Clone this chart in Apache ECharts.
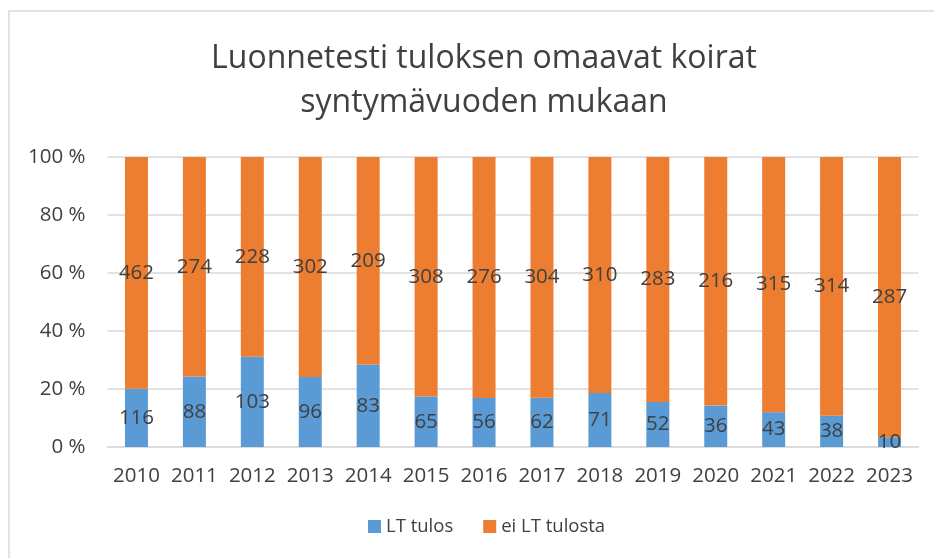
<!DOCTYPE html>
<html><head><meta charset="utf-8">
<script src="https://cdn.jsdelivr.net/npm/echarts@6/dist/echarts.min.js"></script>
<style>html,body{margin:0;padding:0;background:#fff}#c{width:934px;height:558px}</style>
</head><body><div id="c"></div>
<script>
const years = ['2010','2011','2012','2013','2014','2015','2016','2017','2018','2019','2020','2021','2022','2023'];
const ltTulos = [116,88,103,96,83,65,56,62,71,52,36,43,38,10];
const eiLtTulosta = [462,274,228,302,209,308,276,304,310,283,216,315,314,287];
const yTicks = [0,20,40,60,80,100];

const totals = years.map((_, i) => ltTulos[i] + eiLtTulosta[i]);
const pct = (arr) => arr.map((v, i) => ({ value: v / totals[i] * 100, raw: v }));
const font = 'Open Sans';
const chart = echarts.init(document.getElementById('c'), null, {renderer:'canvas'});
const labelCfg = { show: true, position: 'inside', color: '#404040', fontSize: 20.5, fontFamily: font, formatter: p => p.data.raw };
chart.setOption({
  animation: false,
  graphic: [{ type: 'rect', shape: { x: 9, y: 11, width: 940, height: 560 }, style: { fill: 'none', stroke: '#d9d9d9', lineWidth: 1.5 }, silent: true }],
  title: { text: 'Luonnetesti tuloksen omaavat koirat\nsyntymävuoden mukaan', left: 479, textAlign: 'center', top: 32,
    textStyle: { fontFamily: font, fontSize: 32, fontWeight: 'normal', color: '#404040', lineHeight: 44 } },
  legend: { bottom: 17, left: 363, itemWidth: 13, itemHeight: 13, itemGap: 30, icon: 'rect',
    textStyle: { fontFamily: font, fontSize: 18.5, color: '#404040' } },
  grid: { left: 107.5, right: 15.5, top: 157, bottom: 111 },
  xAxis: { type: 'category', data: years, axisTick: { show: false }, axisLine: { lineStyle: { color: '#d9d9d9', width: 1.5 } },
    axisLabel: { interval: 0, hideOverlap: false, fontFamily: font, fontSize: 20.5, color: '#404040', margin: 19 } },
  yAxis: { type: 'value', min: 0, max: 100, interval: 20, splitLine: { lineStyle: { color: '#d9d9d9', width: 1.5 } },
    axisLabel: { fontFamily: font, fontSize: 20.5, color: '#404040', margin: 22, formatter: v => v + ' %' } },
  series: [
    { name: 'LT tulos', type: 'bar', stack: 's', data: pct(ltTulos), barWidth: 23, itemStyle: { color: '#5B9BD5' }, label: labelCfg },
    { name: 'ei LT tulosta', type: 'bar', stack: 's', data: pct(eiLtTulosta), barWidth: 23, itemStyle: { color: '#ED7D31' }, label: labelCfg }
  ]
});
</script></body></html>
